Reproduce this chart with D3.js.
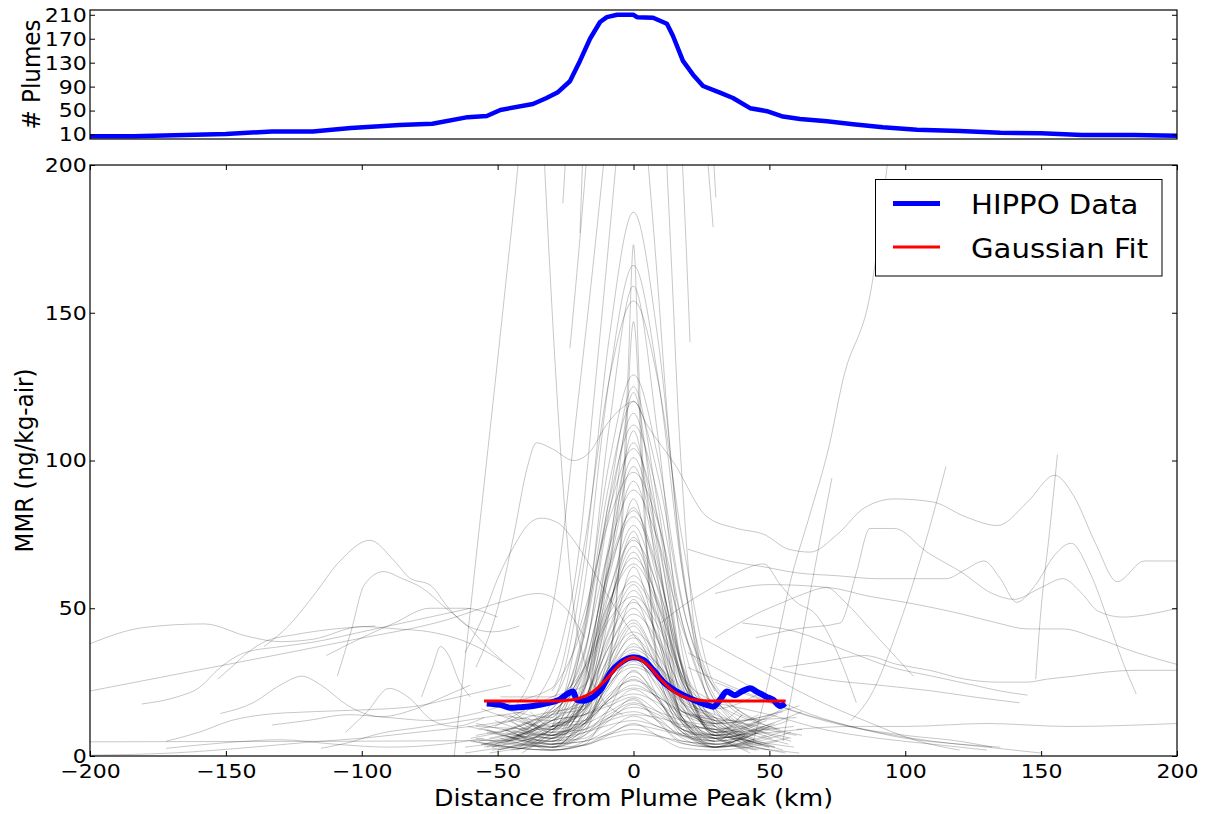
<!DOCTYPE html>
<html><head><meta charset="utf-8">
<script src="https://cdn.jsdelivr.net/npm/d3@7"></script>
<style>
body{margin:0;background:#fff;}
svg{display:block;font-family:"DejaVu Sans",sans-serif;}
</style></head><body>
<svg id="chart" width="1214" height="814"></svg>
<script>
// ---------------- data ----------------
const xTicks = [-200,-150,-100,-50,0,50,100,150,200];
const yTicks = [0,50,100,150,200];
const plumeTicks = [10,50,90,130,170,210];

// top panel: number of plumes vs distance
const plumesX = [-200,-184,-150,-133,-118,-104,-86,-74,-61,-54,-49,-37,-32,-28,-23.4,-19.7,-16,-12.3,-9.8,-6,0,1.3,7.2,12.3,14.5,18.2,21.9,25.6,31.8,36.6,42.9,49.1,55,61.3,71.2,80.8,91.8,104.3,120,135,150,165,184,200];
const plumesY = [7,7,11,15,15,21,26,28,39,41,51,61,71,80,99,133,170,198,206,210,210,206,205,195,175,133,110,91,80,71,54,49,40,36,32,27,22,18,16,13,12,9,9,8];

// HIPPO mean profile
const hippoX = [-54,-49,-45,-42,-37,-32,-27,-24,-22.2,-20.9,-18.5,-14.8,-11.7,-8.6,-5,0,3.6,7.3,11,15.9,22,26.9,29.4,31.8,34.3,37.3,39.8,42.9,45.3,49,51.4,53.9,55.8];
const hippoY = [17.8,17.3,16.3,16.5,16.9,17.8,19.2,21.2,21.8,19,18.7,20,22.9,28,31.4,33.4,32.5,29.1,25.1,21.8,19,17.3,16.7,19,21.8,20.6,21.8,22.9,21.8,20,19,16.9,17.8];

// Gaussian fit
const fitX = [-55,-30,-25,-20,-15,-10,-5,0,5,10,15,20,25,30,56];
const fitY = [18.6,18.6,18.8,19.5,21.7,25.9,31,33.3,31,25.9,21.7,19.5,18.8,18.6,18.6];

// individual plumes centred on the peak: inner values at centralX, outer ends at centralEnds
const centralX = [-30,-18,-9,0,9,18,30];
const centralEnds = [
[-52,48],[-44,58],[-60,40],[-48,53],[-40,45],[-56,62],[-46,50],[-58,38],[-42,55],[-50,44],
[-62,52],[-45,47],[-38,60],[-54,42],[-49,56],[-41,50],[-57,46],[-47,39],[-53,61],[-43,49],
[-60,44],[-51,57],[-39,52],[-55,41],[-46,48],[-58,63],[-44,45],[-50,54],[-42,40],[-61,50],
[-48,59],[-40,43],[-53,47],[-45,56],[-57,38],[-49,51],[-41,46],[-56,60],[-47,42],[-52,55],
[-43,49],[-59,44],[-38,58],[-54,41],[-46,52],[-50,47],[-42,62],[-58,39],[-45,53],[-62,46],
[-51,57],[-39,43],[-55,50],[-48,55],[-44,40],[-60,48],[-53,45],[-41,61],[-57,51],[-47,42],
[-50,54],[-43,47],[-59,59],[-46,44],[-52,39],[-40,56],[-56,49],[-48,43],[-61,53],[-45,58],
[-54,46],[-42,41],[-58,55],[-49,50],[-44,62],[-55,45],[-47,57],[-51,40]
];
// [leftEnd, x=-30, -18, -9, 0, 9, 18, 30, rightEnd]
const centralLines = [
[3,18,67,141,184,141,65,16,22],[15,13,58,127,166,128,62,19,5],[6,16,43,111,159,108,35,7,14],
[18,23,72,127,154,127,73,24,9],[null,10,45,99,129,101,52,20,8],[4,13,34,87,125,85,30,7,15],
[16,9,18,69,123,69,18,9,3],[10,9,42,92,120,95,51,22,null],[9,16,35,82,116,80,29,8,16],
[14,12,41,86,112,88,45,16,6],[3,10,18,63,110,60,12,4,11],[12,6,25,72,106,74,29,11,4],
[null,22,46,83,104,80,39,12,13],[3,9,26,70,101,72,31,15,7],[20,20,49,80,96,79,45,14,null],
[11,7,23,64,93,65,26,10,2],[5,14,36,70,90,73,43,23,12],[9,4,11,48,87,49,13,7,null],
[6,15,28,61,84,59,25,11,17],[2,10,31,63,81,62,30,8,12],[null,10,23,55,78,56,25,13,4],
[10,20,24,50,76,43,12,6,12],[13,8,27,56,73,57,30,12,3],[4,12,23,51,71,52,26,16,8],
[12,7,18,48,69,47,17,5,9],[7,15,30,52,65,51,27,10,null],[8,3,8,35,64,39,15,11,5],
[2,9,18,43,61,47,27,18,9],[null,18,30,48,59,46,23,8,14],[10,6,15,39,56,40,18,10,3],
[4,14,29,46,54,44,25,8,10],[13,7,11,31,53,34,15,12,5],[5,12,20,37,50,36,16,7,12],
[9,6,18,37,48,39,22,12,null],[null,9,16,34,46,32,13,5,10],[8,14,16,30,44,29,15,12,6],
[1,8,18,33,42,34,19,9,14],[16,10,16,30,40,31,19,14,7],[7,3,10,26,38,27,12,6,2],
[3,9,17,29,36,30,18,11,15],[6,12,14,24,34,20,7,5,null],[null,5,10,23,32,24,13,8,3],
[15,10,16,25,30,26,18,13,6],[9,4,9,20,28.5,20,8,3,7],[5,11,12,19,27,19,10,9,3],
[2,7,12,21,25.5,21,12,7,11],[13,8,11,19,24,20,15,13,7],[6,3,7,16,22.5,17,8,5,null],
[null,10,14,18,21,18,12,9,14],[1,5,6,13,19.5,12,5,4,8],[12,7,9,14,18,15,12,10,4],
[7,4,7,13,16.5,14,9,6,1],[3,8,9,13,15,12,7,5,9],[null,4,5,9,13.5,10,7.5,7,2],
[10,6,8,10.5,12,10,6.6,4,null],[5,2,3.7,7.7,10.5,9,7,6,10],[1,4,5,7.3,9,7,4.2,3,6],
[6,2,3.8,6.2,7.5,6.6,5,4,1],[9,15,17,29,41,25,9,6,11],[8,5,15,29,37,31,20,13,4],
[null,7,12,24,33,23,9,3,8],[7,14,19,27,31,26,16,10,null],[5,2,4,16,29,19,9,7,3],
[14,9,12,20,26,19,8,4,7],[2,6,11,19,23,20,14,11,16],[6,12,14,17,20,15,9,6,1],
[4,2,5,12,17.5,13,6,3,7],[9,5,8,12,14,13,10.6,9,4],[null,3,3.6,7.2,11,6.8,2.7,2,5],
[2,6,14,32,45,31,11,3,8],[8,5,19,40,52,41,21,8,2],[3,10,19,42,58,39,13,3,7],
[11,7,24,52,67,53,27,11,null],[6,3,16,50,74,51,19,6,10],[null,8,30,64,83,63,29,7,9],
[9,4,22,66,98,67,24,7,2],[5,3,13,27,35,27,13,3,6],[4,10,11,15,19,11.5,4.3,3,8]
];

// narrow spikes and steep plumes leaving the top of the axes
const steepLines = [
[[-25,6],[-12,20],[-5,70],[-2,130],[0,173],[2,130],[5,70],[12,20],[25,6]],
[[-22,8],[-10,25],[-4,80],[0,147],[4,80],[10,25],[22,8]],
[[-66,0],[-62.8,26],[-57,75],[-52,117],[-47,160],[-42.5,200],[-41.9,206]],
[[-33,205],[-30.5,160],[-27.8,117],[-25,80],[-22,50],[-18,32],[-12,20],[-4,14]],
[[-26,187],[-24.8,205]],
[[-19.7,177],[-18.6,205]],
[[-23.4,138],[-20,172],[-17,205]],
[[-45,15],[-36,30],[-28,60],[-20.8,117],[-15,165],[-10.5,205]],
[[-45,12],[-35,20],[-26,40],[-20,70],[-15,117],[-10,165],[-6,205]],
[[5,205],[8.5,165],[12.3,117],[17,70],[23,40],[32,20],[45,12]],
[[12,205],[14.3,160],[16.4,117],[18.5,85],[21,55],[25,30],[33,15],[45,8]],
[[17.8,205],[19.5,170],[20.8,140]],
[[27,205],[29.3,179]],
[[29.3,205],[30.3,189]],
[[44,5],[47,15],[52,35],[58,60],[65,82],[72,105],[77,127],[88,161],[94,205]],
[[55,5],[58,20],[63,45],[68,70],[73,94]],
[[80,12],[87,20],[98,45],[107,71],[115,98]],
[[148,26],[150,50],[153,75],[156,102]]
];

// wandering plumes away from the centre
const wanderLines = [
[[-58,30],[-50,50],[-44,75],[-39,98],[-35.7,106],[-30,104],[-22,100],[-16,103],[-10,112],[-4,118],[0,120],[5,112],[15,99],[27,81],[38,77],[48,75],[57,70],[65,69],[75,75],[85,84],[96,87],[110,86],[122,81],[134,78],[145,86],[155,95],[162,88],[170,72],[178,59],[188,66],[200,66]],
[[45,40],[60,43],[76,45],[82,62],[87,77],[96,77],[108,69],[121,62],[132,55],[140,53],[150,57],[158,60],[165,55],[171,49],[180,47],[190,48],[200,50]],
[[20,70],[35,66],[48,64],[60,62],[75,61],[90,60],[105,60],[115,60],[122,63],[129,66],[135,60],[141,52],[148,58],[155,68],[161,72],[168,62],[175,45],[180,32],[185,21]],
[[30,55],[50,58],[72,57],[87,54],[100,52],[121,48],[134,45],[145,43],[158,43],[170,40],[185,35],[200,31]],
[[55,30],[70,32],[85,34],[97,31],[109,29],[122,26],[134,25],[145,25],[152,26],[162,27],[170,28],[185,29],[200,29]],
[[60,9],[80,10],[100,10],[130,11],[160,10],[200,11]],
[[20,30],[40,22],[60,15],[80,10],[100,6],[120,4],[135,3]],
[[30,18],[50,14],[70,9],[90,6],[110,4],[130,2]],
[[25,40],[45,30],[65,20],[85,12],[105,5],[120,2]],
[[10,45],[20,52],[29,57],[38,62],[48,65],[54,58],[60,52],[67,48],[75,35],[82,18]],
[[30,40],[45,48],[55,52],[63,55],[71,57],[78,52],[88,42],[95,35],[103,27]],
[[40,45],[60,42],[80,35],[95,30],[110,27],[125,24],[135,22],[145,20.6]],
[[50,30],[70,26],[90,24],[110,22],[125,20],[142,18]],
[[30,25],[50,18],[70,12],[90,8],[110,5],[130,3],[150,1]],
[[20,35],[40,25],[60,16],[80,10],[100,7],[120,5],[132,3]],
[[-200,38],[-180,43.5],[-158,44.7],[-142,40.5],[-130,38.7],[-118,39.5],[-100,43.8],[-87,43],[-75,42],[-60,38],[-50,33],[-40,26]],
[[-200,22],[-155,30],[-105,39],[-69,46],[-49,52],[-35,55],[-25,50],[-18,40]],
[[-181,17.6],[-168,20],[-160,23],[-152,30],[-143,35],[-130,37],[-118,38.5],[-100,42],[-85,45],[-70,48],[-60,50]],
[[-153,26],[-148,30],[-142,35],[-135,39],[-125,41],[-110,43],[-95,44]],
[[-136,37],[-127,44],[-118,54],[-108,66],[-97,73],[-88,66],[-82,60],[-75,58],[-68,50],[-61,44],[-52,42],[-42,44]],
[[-109,27],[-104,42],[-99,58],[-92,62.4],[-85,60],[-78,57],[-69,50],[-61,44],[-55,38],[-48,32]],
[[-113,34],[-100,40],[-88,45],[-75,50],[-62,50],[-50,47]],
[[-62,35],[-55,48],[-50,60],[-44,71],[-38,79],[-34,80.5],[-28,79],[-22,73],[-17,66],[-10,55],[-3,45],[5,35],[15,25]],
[[-172,5],[-160,8],[-148,12],[-136,14],[-118,15],[-100,15.6],[-81,16.7],[-69,19],[-55,22],[-45,24]],
[[-152,14.4],[-140,18],[-130,24],[-122,27],[-115,24],[-105,17],[-93,13.3],[-80,16],[-70,20],[-60,24]],
[[-200,4.8],[-150,4.9],[-100,5],[-60,5.2],[-40,5.3]],
[[-200,0.3],[-170,1],[-140,3],[-118,4.8],[-100,6],[-80,8],[-60,10],[-45,12]],
[[-172,2.6],[-150,4.5],[-130,5.5],[-110,4],[-90,3],[-70,4],[-55,6]],
[[-133,10.5],[-120,12],[-105,14],[-90,13],[-75,12],[-60,14],[-45,18]],
[[-115,2.6],[-105,4.5],[-93,7.7],[-80,9.5],[-69,11],[-55,13],[-40,15]],
[[-106,8],[-98,15],[-90,22.9],[-83,20],[-74,12],[-66,10],[-55,13]],
[[-78,20],[-74,30],[-71,37],[-68,34],[-64,25],[-60,20]]
];

// ---------------- drawing ----------------
const SX = 1.1; // horizontal text stretch of the original raster
const svg = d3.select("#chart");
const L = 90, R = 1177;
const x = d3.scaleLinear().domain([-200,200]).range([L,R]);
const y = d3.scaleLinear().domain([0,200]).range([756,165]);
const yTop = d3.scaleLinear().domain([2.5,218]).range([139,10]);

const defs = svg.append("defs");
defs.append("clipPath").attr("id","clipMain").append("rect")
  .attr("x",L).attr("y",165).attr("width",R-L).attr("height",756-165);
defs.append("clipPath").attr("id","clipTop").append("rect")
  .attr("x",L).attr("y",10).attr("width",R-L).attr("height",129);

// gray plume lines
const centralPts = centralLines.map((v,k) => {
  const pts = [[centralEnds[k][0], v[0]]];
  centralX.forEach((cx,i)=>pts.push([cx, v[i+1]]));
  pts.push([centralEnds[k][1], v[8]]);
  return pts.filter(p => p[1] != null);
});
const allGray = centralPts.concat(steepLines).concat(wanderLines)
  .map(pts => pts.slice().sort((a,b)=>a[0]-b[0]));
const grayLine = d3.line().x(d=>x(d[0])).y(d=>y(d[1])).curve(d3.curveMonotoneX);
const gMain = svg.append("g").attr("clip-path","url(#clipMain)");
gMain.selectAll("path.plume").data(allGray).join("path")
  .attr("class","plume").attr("d",grayLine)
  .attr("fill","none").attr("stroke","#000").attr("stroke-opacity",0.22).attr("stroke-width",1);

// HIPPO data and fit
const hippo = hippoX.map((v,i)=>[v,hippoY[i]]);
const fit = fitX.map((v,i)=>[v,fitY[i]]);
gMain.append("path").attr("d", d3.line().x(d=>x(d[0])).y(d=>y(d[1])).curve(d3.curveMonotoneX)(hippo))
  .attr("fill","none").attr("stroke","#0000ff").attr("stroke-width",6).attr("stroke-linejoin","round");
gMain.append("path").attr("d", d3.line().x(d=>x(d[0])).y(d=>y(d[1])).curve(d3.curveMonotoneX)(fit))
  .attr("fill","none").attr("stroke","#ff0000").attr("stroke-width",3);

// top panel line
const plumes = plumesX.map((v,i)=>[v,plumesY[i]]);
svg.append("g").attr("clip-path","url(#clipTop)").append("path")
  .attr("d", d3.line().x(d=>x(d[0])).y(d=>yTop(d[1]))(plumes))
  .attr("fill","none").attr("stroke","#0000ff").attr("stroke-width",4.5).attr("stroke-linejoin","round");

// axes
function style(g, labels){
  g.select(".domain").remove();
  g.selectAll(".tick line").attr("stroke","#000");
  if(!labels){ g.selectAll(".tick text").remove(); return; }
  g.selectAll(".tick text").attr("fill","#000").attr("font-size",20)
    .attr("font-family","DejaVu Sans").attr("transform",`scale(${SX},1)`);
}
svg.append("g").attr("transform","translate(0,756)")
  .call(d3.axisBottom(x).tickValues(xTicks).tickSizeInner(-5).tickSizeOuter(0).tickPadding(8))
  .call(g=>style(g,true));
svg.append("g").attr("transform","translate(0,165)")
  .call(d3.axisTop(x).tickValues(xTicks).tickSizeInner(-5).tickSizeOuter(0))
  .call(g=>style(g,false));
svg.append("g").attr("transform",`translate(${L},0)`)
  .call(d3.axisLeft(y).tickValues(yTicks).tickSizeInner(-5).tickSizeOuter(0).tickPadding(3))
  .call(g=>style(g,true));
svg.append("g").attr("transform",`translate(${R},0)`)
  .call(d3.axisRight(y).tickValues(yTicks).tickSizeInner(-5).tickSizeOuter(0))
  .call(g=>style(g,false));
svg.append("g").attr("transform",`translate(${L},0)`)
  .call(d3.axisLeft(yTop).tickValues(plumeTicks).tickSizeInner(-5).tickSizeOuter(0).tickPadding(3))
  .call(g=>style(g,true));
svg.append("g").attr("transform",`translate(${R},0)`)
  .call(d3.axisRight(yTop).tickValues(plumeTicks).tickSizeInner(-5).tickSizeOuter(0))
  .call(g=>style(g,false));

// frames
svg.append("rect").attr("x",L).attr("y",165).attr("width",R-L).attr("height",756-165)
  .attr("fill","none").attr("stroke","#000").attr("stroke-width",1.2);
svg.append("rect").attr("x",L).attr("y",10).attr("width",R-L).attr("height",129)
  .attr("fill","none").attr("stroke","#000").attr("stroke-width",1.2);

// axis titles
svg.append("text").attr("transform",`translate(${(L+R)/2},806) scale(${SX},1)`)
  .attr("text-anchor","middle").attr("font-size",23).text("Distance from Plume Peak (km)");
svg.append("text").attr("transform",`translate(33,460.5) scale(${SX},1) rotate(-90)`)
  .attr("text-anchor","middle").attr("font-size",23).text("MMR (ng/kg-air)");
svg.append("text").attr("transform",`translate(40,74.5) scale(${SX},1) rotate(-90)`)
  .attr("text-anchor","middle").attr("font-size",23).text("# Plumes");

// legend
const leg = svg.append("g");
leg.append("rect").attr("x",875.5).attr("y",179.5).attr("width",286.5).attr("height",96.5)
  .attr("fill","#fff").attr("stroke","#000").attr("stroke-width",1);
const legendItems = [
  {label:"HIPPO Data", color:"#0000ff", width:5, y:203.5, base:214},
  {label:"Gaussian Fit", color:"#ff0000", width:3, y:247, base:257.5}
];
legendItems.forEach(d=>{
  leg.append("line").attr("x1",893).attr("x2",940).attr("y1",d.y).attr("y2",d.y)
    .attr("stroke",d.color).attr("stroke-width",d.width);
  leg.append("text").attr("transform",`translate(971,${d.base}) scale(${SX},1)`)
    .attr("font-size",26.5).text(d.label);
});
</script>
</body></html>
